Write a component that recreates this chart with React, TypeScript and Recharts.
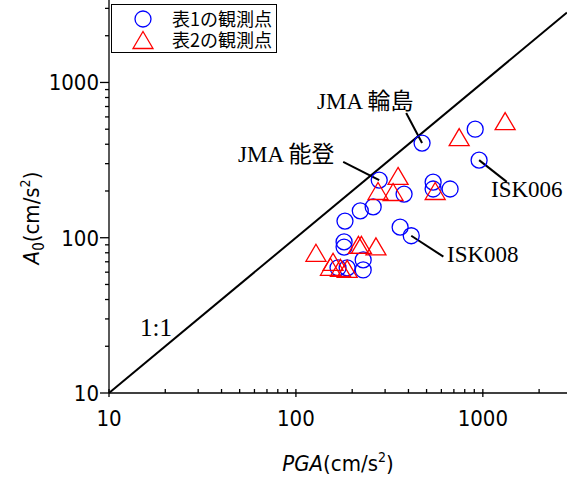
import React from "react";
import { ScatterChart, Scatter, XAxis, YAxis, ReferenceLine, Legend } from "recharts";

// table 1 stations (blue circles)
const t1PGA = [473, 910, 955, 279, 379, 542, 542, 668, 259, 221, 183, 181, 181, 361, 414, 229, 229, 168, 188];
const t1A0 = [407, 500, 316, 235, 191, 228, 206, 206, 158, 149, 128, 94, 87, 117, 103, 72, 62, 64, 64];

// table 2 stations (red triangles)
const t2PGA = [1316, 747, 352, 275, 331, 556, 216, 224, 268, 128, 158, 153, 173, 188];
const t2A0 = [564, 445, 250, 200, 197, 200, 90, 90, 88, 80, 70, 65, 64, 63];

const seriesNames = ["表1の観測点", "表2の観測点"];

const xTicks = [10, 20, 30, 40, 50, 60, 70, 80, 90, 100, 200, 300, 400, 500, 600, 700, 800, 900, 1000, 2000];
const yTicks = [10, 20, 30, 40, 50, 60, 70, 80, 90, 100, 200, 300, 400, 500, 600, 700, 800, 900, 1000, 2000, 3000];
const majorTicks = [10, 100, 1000];

const X_MAX = 2820;
const Y_MAX = 3397;

// leader lines: [point, label end] in data units
const leaders = [
  [473, 407, 389, 635],
  [279, 235, 179, 308],
  [955, 316, 1343, 229],
  [414, 103, 615, 75.5],
];

const t1 = t1PGA.map((x, i) => ({ x, y: t1A0[i] }));
const t2 = t2PGA.map((x, i) => ({ x, y: t2A0[i] }));

const NARROW = "'Liberation Sans Narrow', 'DejaVu Sans Condensed', 'Arial Narrow', sans-serif";
const SERIF = "'Liberation Serif', 'Times New Roman', 'Noto Sans CJK JP', serif";

const Ring = (p: any) => (
  <circle cx={p.cx} cy={p.cy} r={8} fill="none" stroke="#0000ff" strokeWidth={1.3} />
);

const Tri = (p: any) => (
  <path
    d={`M${p.cx},${p.cy - 8.5}L${p.cx + 10},${p.cy + 8.5}L${p.cx - 10},${p.cy + 8.5}Z`}
    fill="none"
    stroke="#ff0000"
    strokeWidth={1.3}
  />
);

const XTick = ({ x, y, payload }: any) => {
  const major = majorTicks.includes(payload.value);
  return (
    <g>
      <line x1={x} x2={x} y1={y - 4} y2={major ? y + 4 : y} stroke="#000" strokeWidth={1.3} />
      {major && (
        <text x={x} y={y + 33} textAnchor="middle" fontFamily={NARROW} fontSize={22} fill="#000">
          {payload.value}
        </text>
      )}
    </g>
  );
};

const YTick = ({ x, y, payload }: any) => {
  const major = majorTicks.includes(payload.value);
  return (
    <g>
      <line x1={x - (major ? 9 : 4)} x2={x} y1={y} y2={y} stroke="#000" strokeWidth={1.3} />
      {major && (
        <text x={x - 10} y={y} dy="0.36em" textAnchor="end" fontFamily={NARROW} fontSize={22} fill="#000">
          {payload.value}
        </text>
      )}
    </g>
  );
};

const LegendBox = () => (
  <svg width={166} height={49} style={{ display: "block" }}>
    <rect x={0.5} y={0.5} width={165} height={48} fill="#fff" stroke="#000" strokeWidth={1} />
    <Ring cx={32} cy={15} />
    <Tri cx={32} cy={36} />
    <text x={61} y={22} fontFamily="'Noto Sans CJK JP', sans-serif" fontSize={18} fill="#000">
      {seriesNames[0]}
    </text>
    <text x={61} y={43} fontFamily="'Noto Sans CJK JP', sans-serif" fontSize={18} fill="#000">
      {seriesNames[1]}
    </text>
  </svg>
);

export default function App() {
  return (
    <div style={{ position: "absolute", left: 0, top: 0, width: 567, height: 477, background: "#fff" }}>
      <ScatterChart width={567} height={477} margin={{ top: 0, right: 0, bottom: 0, left: 0 }}>
        <XAxis
          type="number"
          dataKey="x"
          scale="log"
          domain={[10, X_MAX]}
          ticks={xTicks}
          interval={0}
          height={84}
          tickSize={0}
          tickMargin={0}
          tick={<XTick />}
          axisLine={{ stroke: "#000", strokeWidth: 1.3 }}
          allowDataOverflow
        />
        <YAxis
          type="number"
          dataKey="y"
          scale="log"
          domain={[10, Y_MAX]}
          ticks={yTicks}
          interval={0}
          width={109}
          tickSize={0}
          tickMargin={0}
          tick={<YTick />}
          axisLine={{ stroke: "#000", strokeWidth: 1.3 }}
          allowDataOverflow
        />
        <ReferenceLine
          segment={[{ x: 10, y: 10 }, { x: X_MAX, y: X_MAX }]}
          stroke="#000"
          strokeWidth={2}
          ifOverflow="visible"
        />
        {leaders.map((l, i) => (
          <ReferenceLine
            key={i}
            segment={[{ x: l[0], y: l[1] }, { x: l[2], y: l[3] }]}
            stroke="#000"
            strokeWidth={2}
            ifOverflow="visible"
          />
        ))}
        <Scatter name={seriesNames[0]} data={t1} shape={<Ring />} isAnimationActive={false} />
        <Scatter name={seriesNames[1]} data={t2} shape={<Tri />} isAnimationActive={false} />
        <Legend
          layout="vertical"
          align="center"
          verticalAlign="middle"
          wrapperStyle={{ top: 4, left: 111, width: 166, height: 49 }}
          content={<LegendBox />}
        />
      </ScatterChart>
      <svg
        width={567}
        height={477}
        style={{ position: "absolute", left: 0, top: 0, pointerEvents: "none" }}
      >
        <text x={317} y={109} fontFamily={SERIF} fontSize={23} fill="#000">JMA 輪島</text>
        <text x={238} y={162} fontFamily={SERIF} fontSize={23} fill="#000">JMA 能登</text>
        <text x={491} y={197} fontFamily={SERIF} fontSize={23} fill="#000">ISK006</text>
        <text x={447} y={262} fontFamily={SERIF} fontSize={23} fill="#000">ISK008</text>
        <text x={140} y={336} fontFamily={SERIF} fontSize={25} fill="#000">1:1</text>
        <text x={338} y={471} textAnchor="middle" fontFamily={NARROW} fontSize={22} fill="#000">
          <tspan fontStyle="italic">PGA</tspan>
          <tspan>(cm/s</tspan>
          <tspan dy={-9} fontSize={14}>2</tspan>
          <tspan dy={9}>)</tspan>
        </text>
        <text
          transform="translate(39,218) rotate(-90)"
          textAnchor="middle"
          fontFamily={NARROW}
          fontSize={22}
          fill="#000"
        >
          <tspan fontStyle="italic">A</tspan>
          <tspan dy={5} fontSize={15}>0</tspan>
          <tspan dy={-5}>(cm/s</tspan>
          <tspan dy={-9} fontSize={14}>2</tspan>
          <tspan dy={9}>)</tspan>
        </text>
      </svg>
    </div>
  );
}
